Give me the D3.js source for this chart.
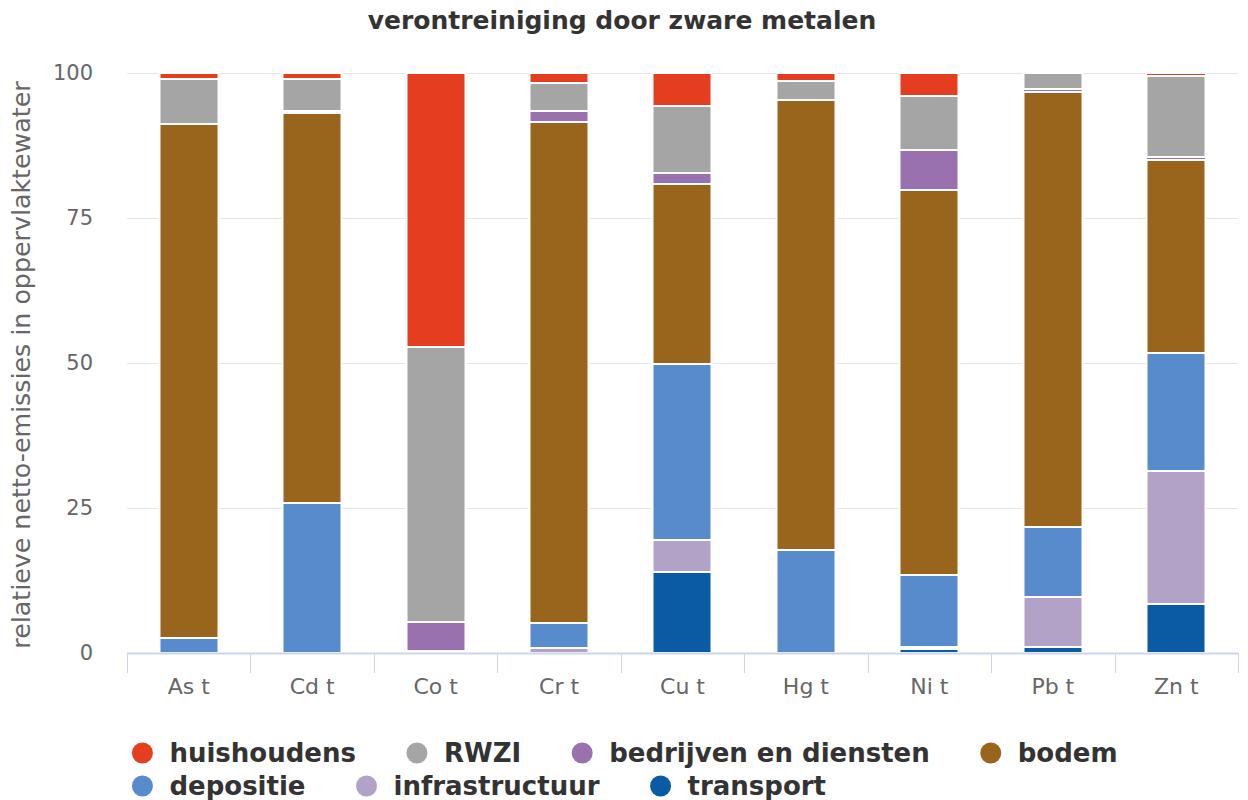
<!DOCTYPE html>
<html><head><meta charset="utf-8">
<script src="https://cdn.jsdelivr.net/npm/d3@7"></script>
<style>body{margin:0;background:#fff}svg{display:block}text{font-family:"DejaVu Sans",sans-serif}</style>
</head><body><svg id="c" width="1248" height="800"></svg>
<script>
const title = "verontreiniging door zware metalen";
const yTitle = "relatieve netto-emissies in oppervlaktewater";
const categories = ["As t","Cd t","Co t","Cr t","Cu t","Hg t","Ni t","Pb t","Zn t"];
const seriesNames = ["huishoudens","RWZI","bedrijven en diensten","bodem","depositie","infrastructuur","transport"];
const seriesColors = ["#e53d20","#a6a5a5","#9a71af","#99641b","#578bcb","#b3a2c8","#0a5aa4"];
const huishoudens = [1.0,1.0,47.2,1.7,5.7,1.3,4.0,0,0.6];
const rwzi        = [7.8,5.6,47.5,4.9,11.5,3.4,9.3,2.8,13.8];
const bedrijven   = [0,0.3,5.0,1.8,1.9,0,6.9,0.5,0.6];
const bodem       = [88.6,67.2,0,86.4,31.1,77.5,66.4,75.0,33.3];
const depositie   = [2.6,25.9,0.3,4.4,30.3,17.8,12.4,12.1,20.3];
const infrastructuur = [0,0,0,0.8,5.5,0,0.3,8.6,23.0];
const transport   = [0,0,0,0,14.0,0,0.7,1.0,8.4];
const yTicks = [0,25,50,75,100];

const seriesValues = [huishoudens,rwzi,bedrijven,bodem,depositie,infrastructuur,transport];
const svg = d3.select("#c");
const m = {l:127, r:1238, t:73, b:653};
const x = d3.scaleBand().domain(categories).range([m.l,m.r]).paddingInner(0.53).paddingOuter(0.265);
const y = d3.scaleLinear().domain([0,100]).range([m.b,m.t]);

// grid
svg.append("g").selectAll("line").data(yTicks.filter(d=>d>0)).join("line")
  .attr("x1",m.l).attr("x2",m.r).attr("y1",d=>Math.round(y(d))+0.5).attr("y2",d=>Math.round(y(d))+0.5)
  .attr("stroke","#e6e6e6").attr("stroke-width",1);

// y labels
svg.append("g").selectAll("text").data(yTicks).join("text")
  .attr("x",93).attr("y",d=>y(d)+7).attr("text-anchor","end")
  .attr("font-size",21).attr("fill","#666").text(d=>d);

// y title
svg.append("text").attr("transform",`translate(30,${(m.t+m.b)/2+2}) rotate(-90)`)
  .attr("text-anchor","middle").attr("font-size",25.3).attr("fill","#666").text(yTitle);

// stacks (bottom first = transport)
const rows = categories.map((c,i)=>{const o={cat:c}; seriesNames.forEach((s,j)=>o[s]=seriesValues[j][i]); return o;});
const stack = d3.stack().keys(seriesNames.slice().reverse()).offset(d3.stackOffsetExpand)(rows);
const colorOf = d3.scaleOrdinal().domain(seriesNames).range(seriesColors);
svg.append("g").selectAll("g").data(stack).join("g").attr("fill",d=>colorOf(d.key))
  .selectAll("rect").data(d=>d.filter(p=>p[1]-p[0]>0)).join("rect")
  .attr("x",d=>Math.round(x(d.data.cat))-0.5)
  .attr("width",Math.round(x.bandwidth())+1)
  .attr("y",d=>Math.round(y(d[1]*100)))
  .attr("height",d=>Math.max(0,Math.round(y(d[0]*100))-Math.round(y(d[1]*100))))
  .attr("stroke","#fff").attr("stroke-width",2);

// x axis
const step = x.step();
svg.append("line").attr("x1",m.l).attr("x2",m.r).attr("y1",m.b+0.5).attr("y2",m.b+0.5).attr("stroke","#ccd6eb").attr("stroke-width",2);
const tickXs = d3.range(categories.length+1).map(i=>m.l+i*step);
svg.append("g").selectAll("line").data(tickXs).join("line")
  .attr("x1",d=>Math.round(d)+0.5).attr("x2",d=>Math.round(d)+0.5).attr("y1",m.b).attr("y2",m.b+20)
  .attr("stroke","#ccd6eb").attr("stroke-width",1);
svg.append("g").selectAll("text").data(categories).join("text")
  .attr("x",d=>x(d)+x.bandwidth()/2).attr("y",694).attr("text-anchor","middle")
  .attr("font-size",22).attr("fill","#666").text(d=>d);

// title
svg.append("text").attr("x",622).attr("y",29).attr("text-anchor","middle")
  .attr("font-size",25).attr("font-weight","bold").attr("fill","#333").text(title);

// legend (flow layout, 4 per row)
const lg = svg.append("g");
const perRow = 4, gap = 51, fs = 26, textOff = 37;
const items = seriesNames.map((n,i)=>({n,c:seriesColors[i]}));
const tmp = lg.append("text").attr("font-size",fs).attr("font-weight","bold");
const widths = items.map(it=>{tmp.text(it.n); return tmp.node().getComputedTextLength();});
tmp.remove();
let rowWidths=[];
for(let r=0;r*perRow<items.length;r++){
  let w=0; const end=Math.min(items.length,(r+1)*perRow);
  for(let k=r*perRow;k<end;k++){w+=textOff+widths[k]+(k<end-1?gap:0);} rowWidths.push(w);
}
const boxW = d3.max(rowWidths), startX = 625-boxW/2;
items.forEach((it,i)=>{
  const r=Math.floor(i/perRow);
  let xx=startX; for(let q=r*perRow;q<i;q++) xx+=textOff+widths[q]+gap;
  const yy = 753 + r*33;
  lg.append("circle").attr("cx",xx+10).attr("cy",yy).attr("r",10.5).attr("fill",it.c);
  lg.append("text").attr("x",xx+textOff).attr("y",yy+9).attr("font-size",fs).attr("font-weight","bold").attr("fill","#333").text(it.n);
});
</script></body></html>
